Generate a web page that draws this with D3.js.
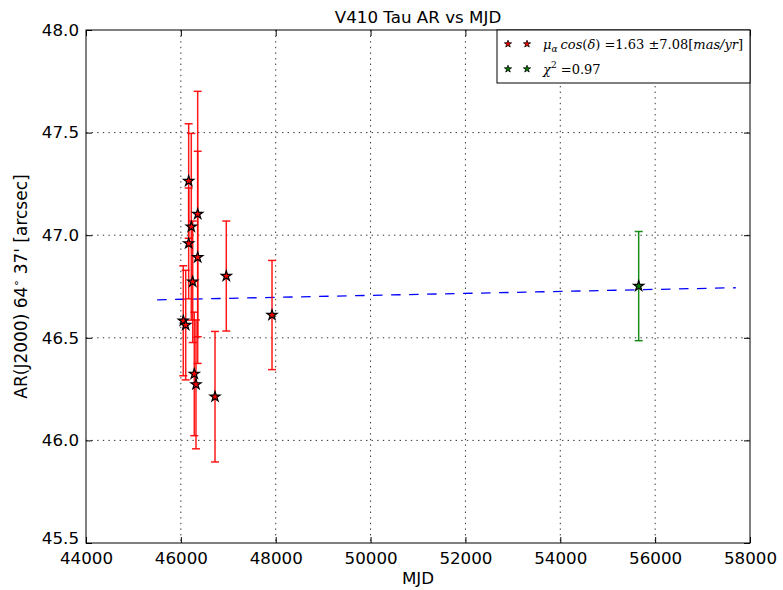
<!DOCTYPE html>
<html>
<head>
<meta charset="utf-8">
<script src="https://cdn.jsdelivr.net/npm/d3@7"></script>
<style>
  body { margin: 0; background: #fff; }
  text { font-family: "DejaVu Sans", sans-serif; }
</style>
</head>
<body>
<div id="chart"></div>
<script>
//data
  //red points: MJD, AR [arcsec] and error
  const mjd   = [46165, 46355, 46220, 46165, 46355, 46250, 46051, 46102, 46283, 46319, 46720, 46958, 47922];
  const ar    = [47.264, 47.103, 47.041, 46.960, 46.892, 46.773, 46.583, 46.562, 46.324, 46.273, 46.213, 46.801, 46.611];
  const arErr = [0.279, 0.598, 0.455, 0.270, 0.517, 0.296, 0.268, 0.267, 0.301, 0.314, 0.318, 0.268, 0.266];

  //green point
  const mjdGreen = [55653];
  const arGreen = [46.752];
  const errGreen = [0.266];

  //fitted line endpoints
  const fitMjd = [45500, 57700];
  const fitAr = [46.685, 46.744];

  //ticks
  const xTicks = [44000, 46000, 48000, 50000, 52000, 54000, 56000, 58000];
  const yTicks = [45.5, 46.0, 46.5, 47.0, 47.5, 48.0];

//set up svg
  const width = 783, height = 590;
  const margin = {top: 30, right: 33, bottom: 47, left: 86};
  const w = width - margin.left - margin.right;
  const h = height - margin.top - margin.bottom;

  const svg = d3.select("#chart").append("svg")
                .attr("width", width)
                .attr("height", height);
  const g = svg.append("g")
               .attr("transform", `translate(${margin.left},${margin.top})`);

  const x = d3.scaleLinear().domain([44000, 58000]).range([0, w]);
  const y = d3.scaleLinear().domain([45.5, 48.0]).range([h, 0]);

  //dotted grid
  g.append("g").selectAll("line").data(xTicks.slice(1, -1)).enter().append("line")
   .attr("x1", d => x(d)).attr("x2", d => x(d))
   .attr("y1", 0).attr("y2", h)
   .attr("stroke", "#000").attr("stroke-width", 0.8)
   .attr("stroke-dasharray", "1.4,4.2");
  g.append("g").selectAll("line").data(yTicks.slice(1, -1)).enter().append("line")
   .attr("y1", d => y(d)).attr("y2", d => y(d))
   .attr("x1", 0).attr("x2", w)
   .attr("stroke", "#000").attr("stroke-width", 0.8)
   .attr("stroke-dasharray", "1.4,4.2");

  //axes, ticks pointing inward on all sides
  const fmtY = d3.format(".1f");
  g.append("g").attr("transform", `translate(0,${h})`)
   .call(d3.axisBottom(x).tickValues(xTicks).tickFormat(d3.format("d")).tickSizeInner(-6).tickSizeOuter(0).tickPadding(9));
  const yAxis = g.append("g")
                 .call(d3.axisLeft(y).tickValues(yTicks).tickFormat(fmtY).tickSizeInner(-6).tickSizeOuter(0).tickPadding(7));
  g.append("g")
   .call(d3.axisTop(x).tickValues(xTicks).tickFormat("").tickSizeInner(-6).tickSizeOuter(0));
  g.append("g").attr("transform", `translate(${w},0)`)
   .call(d3.axisRight(y).tickValues(yTicks).tickFormat("").tickSizeInner(-6).tickSizeOuter(0));
  g.selectAll(".domain").remove();
  g.selectAll(".tick line").attr("stroke", "#000");
  g.selectAll(".tick text").attr("fill", "#000").style("font-size", "16.7px")
   .style("font-family", "DejaVu Sans, sans-serif");
  //the bottom y label sits a little above the corner so it does not hit 44000
  yAxis.selectAll(".tick text").filter(d => d === 45.5).attr("dy", "0.05em");

  //fitted line
  g.append("line")
   .attr("x1", x(fitMjd[0])).attr("y1", y(fitAr[0]))
   .attr("x2", x(fitMjd[1])).attr("y2", y(fitAr[1]))
   .attr("stroke", "#0000ff").attr("stroke-width", 1.3)
   .attr("stroke-dasharray", "9.5,8.5");

  //error bars
  function errorBars(xs, ys, es, color, opacity) {
    const eb = g.append("g").attr("stroke", color).attr("stroke-opacity", opacity)
                .attr("stroke-width", 1.5).attr("fill", "none");
    xs.forEach(function(m, i) {
      const cx = x(m);
      eb.append("line").attr("x1", cx).attr("x2", cx)
        .attr("y1", y(ys[i] - es[i])).attr("y2", y(ys[i] + es[i]));
      [ys[i] - es[i], ys[i] + es[i]].forEach(function(v) {
        eb.append("line").attr("x1", cx - 4).attr("x2", cx + 4)
          .attr("y1", y(v)).attr("y2", y(v));
      });
    });
  }
  errorBars(mjd, ar, arErr, "#ff0000", 0.9);
  errorBars(mjdGreen, arGreen, errGreen, "#008000", 0.9);

  //star markers
  const star = d3.symbol().type(d3.symbolStar).size(32);
  g.append("g").selectAll("path").data(mjd).enter().append("path")
   .attr("d", star)
   .attr("transform", (d, i) => `translate(${x(d)},${y(ar[i])})`)
   .attr("fill", "#ff0000").attr("stroke", "#000").attr("stroke-width", 1.2);
  g.append("g").selectAll("path").data(mjdGreen).enter().append("path")
   .attr("d", star)
   .attr("transform", (d, i) => `translate(${x(d)},${y(arGreen[i])})`)
   .attr("fill", "#008000").attr("stroke", "#000").attr("stroke-width", 1.2);

  //frame
  g.append("rect").attr("width", w).attr("height", h)
   .attr("fill", "none").attr("stroke", "#000").attr("stroke-width", 1);

  //title and axis labels
  svg.append("text")
     .attr("x", margin.left + w / 2).attr("y", 23)
     .attr("text-anchor", "middle").style("font-size", "16.7px")
     .text("V410 Tau AR vs MJD");

  svg.append("text")
     .attr("x", margin.left + w / 2).attr("y", 584)
     .attr("text-anchor", "middle").style("font-size", "16.7px")
     .text("MJD");

  const ylab = svg.append("text")
                  .attr("transform", `translate(27,${margin.top + h / 2}) rotate(-90)`)
                  .attr("text-anchor", "middle").style("font-size", "17px");
  ylab.append("tspan").text("AR(J2000) 64");
  ylab.append("tspan").attr("dy", -7).style("font-size", "11px").text("\u2218");
  ylab.append("tspan").attr("dy", 7).text(" 37' [arcsec]");

  //legend
  const lg = g.append("g").attr("transform", `translate(${w - 253},0)`);
  lg.append("rect").attr("width", 253).attr("height", 53)
    .attr("fill", "#fff").attr("stroke", "#000").attr("stroke-width", 1);
  const legendStar = d3.symbol().type(d3.symbolStar).size(16);
  const legendRows = [
    {color: "#ff0000", y: 14},
    {color: "#008000", y: 39}
  ];
  legendRows.forEach(function(r) {
    [11, 30].forEach(function(sx) {
      lg.append("path").attr("d", legendStar)
        .attr("transform", `translate(${sx},${r.y})`)
        .attr("fill", r.color).attr("stroke", "#000").attr("stroke-width", 0.8);
    });
  });

  const serif = "DejaVu Serif, Liberation Serif, serif";
  const t1 = lg.append("text").attr("x", 46).attr("y", 19)
               .style("font-family", serif).style("font-size", "13px");
  t1.append("tspan").style("font-style", "italic").text("\u03bc");
  t1.append("tspan").attr("dy", 3).style("font-size", "9px").style("font-style", "italic").text("\u03b1");
  t1.append("tspan").attr("dy", -3).attr("dx", 3).style("font-style", "italic").text("cos");
  t1.append("tspan").text("(");
  t1.append("tspan").style("font-style", "italic").text("\u03b4");
  t1.append("tspan").text(") =1.63 \u00b17.08[");
  t1.append("tspan").style("font-style", "italic").text("mas/yr");
  t1.append("tspan").text("]");

  const t2 = lg.append("text").attr("x", 46).attr("y", 44)
               .style("font-family", serif).style("font-size", "13px");
  t2.append("tspan").style("font-style", "italic").text("\u03c7");
  t2.append("tspan").attr("dy", -6).style("font-size", "9px").text("2");
  t2.append("tspan").attr("dy", 6).text("  =0.97");
</script>
</body>
</html>
